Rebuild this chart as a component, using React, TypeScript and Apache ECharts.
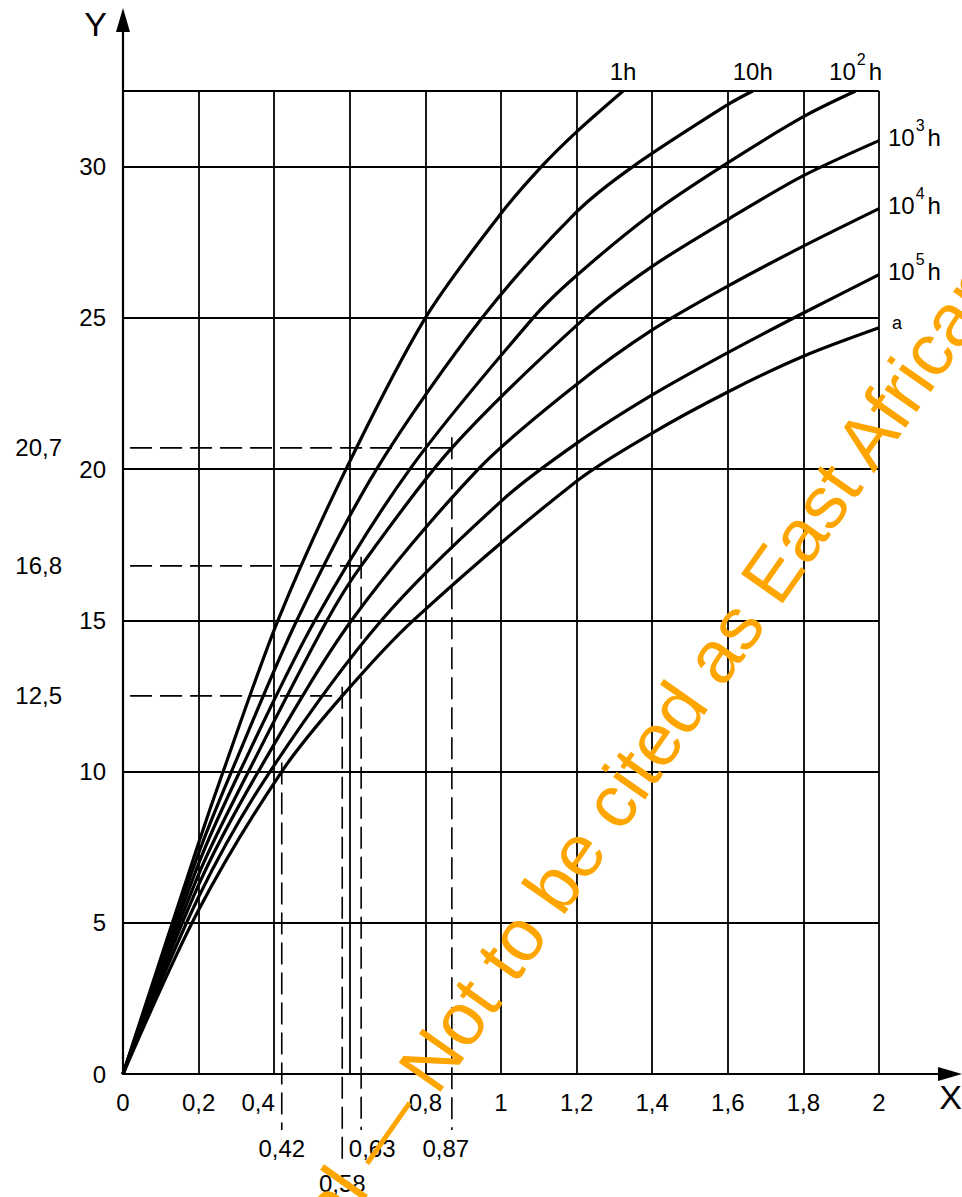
import React, { useEffect, useRef } from "react";
import * as echarts from "echarts";

const FONT = "'Liberation Sans', Arial, sans-serif";

// ---- axes ----
const X_MIN = 0;
const X_MAX = 2;
const X_STEP = 0.2;
const Y_MIN = 0;
const Y_MAX = 32.5;
const Y_STEP = 5;

// ---- curves: [X, Y] ----
const curve1h = [[0, 0], [0.2, 7.64], [0.265, 10], [0.41, 15], [0.59, 20], [0.8, 25], [1.0, 28.45], [1.107, 30], [1.2, 31.15], [1.323, 32.5]];
const curve10h = [[0, 0], [0.2, 7.3], [0.287, 10], [0.46, 15], [0.671, 20], [0.95, 25], [1.2, 28.5], [1.349, 30], [1.6, 32.05], [1.666, 32.5]];
const curve100h = [[0, 0], [0.2, 6.95], [0.309, 10], [0.508, 15], [0.759, 20], [1.085, 25], [1.2, 26.4], [1.4, 28.45], [1.584, 30], [1.8, 31.65], [1.938, 32.5]];
const curve1000h = [[0, 0], [0.2, 6.6], [0.332, 10], [0.54, 15], [0.63, 16.8], [0.87, 20.7], [1.222, 25], [1.4, 26.7], [1.6, 28.25], [1.8, 29.7], [2, 30.86]];
const curve10000h = [[0, 0], [0.2, 6.25], [0.358, 10], [0.605, 15], [0.94, 20], [1.2, 22.8], [1.4, 24.6], [1.6, 26.05], [1.8, 27.37], [2, 28.61]];
const curve100000h = [[0, 0], [0.2, 5.85], [0.389, 10], [0.684, 15], [1.006, 19.0], [1.2, 20.85], [1.4, 22.45], [1.6, 23.85], [1.8, 25.16], [2, 26.43]];
const curveA = [[0, 0], [0.2, 5.42], [0.42, 10.0], [0.58, 12.5], [0.768, 15], [1.2, 19.6], [1.4, 21.19], [1.6, 22.55], [1.8, 23.73], [2, 24.67]];

const curves = [curve1h, curve10h, curve100h, curve1000h, curve10000h, curve100000h, curveA];
// label: exponent of 10 hours; null -> "a"
const curveExps: (number | null)[] = [0, 1, 2, 3, 4, 5, null];

// ---- guide readings (dashed lines) ----
const guideY = [12.5, 16.8, 20.7];
const guideXForY = [0.58, 0.63, 0.87];
const extraGuideX = [0.42];

// ---- layout constants (data units for guide extents, pixels for offsets) ----
const GUIDE_LEFT = -0.14;
const V_GUIDE_TOP: Record<string, number> = { "0.42": 10.3, "0.58": 12.8, "0.63": 17.1, "0.87": 21.05 };
const V_GUIDE_BOTTOM: Record<string, number> = { "0.42": -1.85, "0.58": -3.0, "0.63": -1.85, "0.87": -1.85 };
const V_LABEL_DX: Record<string, number> = { "0.42": 0, "0.58": 0, "0.63": 11, "0.87": -6 };

const fmt = (v: number) => String(v).replace(".", ",");
const near = (a: number, b: number) => Math.abs(a - b) < 1e-6;

const curveLabel = (exp: number | null) => {
  if (exp === null) return "{a|a}";
  if (exp === 0) return "{n|1h}";
  if (exp === 1) return "{n|10h}";
  return `{n|10}{s|${exp}}{n|h}`;
};

const RICH = {
  n: { fontSize: 24, lineHeight: 32, verticalAlign: "bottom", color: "#000", fontFamily: FONT },
  s: { fontSize: 16, lineHeight: 16, verticalAlign: "top", color: "#000", padding: [0, 3, 0, 1], fontFamily: FONT },
  a: { fontSize: 18, lineHeight: 18, color: "#000", fontFamily: FONT },
};

function buildOption() {
  const dashStyle = { color: "#000", width: 1.6, type: [22, 8] };
  const seg = (pts: number[][]) => ({
    type: "line",
    data: pts,
    symbol: "none",
    clip: false,
    silent: true,
    lineStyle: dashStyle,
    z: 1,
    xAxisIndex: 0,
    yAxisIndex: 0,
  });

  const guideSeries: any[] = [];
  guideY.forEach((y, i) => {
    guideSeries.push(seg([[GUIDE_LEFT, y], [guideXForY[i], y]]));
  });
  const vXs = [...extraGuideX, ...guideXForY];
  vXs.forEach((x) => {
    const k = String(x);
    guideSeries.push(seg([[x, V_GUIDE_TOP[k]], [x, V_GUIDE_BOTTOM[k]]]));
  });

  const labelText = { fontSize: 24, color: "#000", fontFamily: FONT, opacity: 1 };
  const guideLabelData: any[] = [];
  guideY.forEach((y) => {
    guideLabelData.push({
      value: [GUIDE_LEFT, y],
      label: { show: true, position: "left", distance: 8, formatter: fmt(y), ...labelText },
    });
  });
  vXs.forEach((x) => {
    const k = String(x);
    guideLabelData.push({
      value: [x, V_GUIDE_BOTTOM[k]],
      label: { show: true, position: "bottom", distance: 7, offset: [V_LABEL_DX[k], 0], formatter: fmt(x), lineHeight: 24, ...labelText },
    });
  });

  const curveSeries = curves.map((c, i) => ({
    type: "line",
    name: "curve" + i,
    data: c,
    smooth: 0.3,
    symbol: "none",
    clip: false,
    silent: true,
    lineStyle: { color: "#000", width: 3.2 },
    z: 3,
    xAxisIndex: 0,
    yAxisIndex: 0,
  }));

  const curveLabelData = curves.map((c, i) => {
    const last = c[c.length - 1];
    const atTop = last[1] >= Y_MAX - 1e-9;
    const exp = curveExps[i];
    return {
      value: last,
      label: {
        show: true,
        position: atTop ? "top" : "right",
        distance: atTop ? 8 : exp === null ? 13 : 9,
        offset: atTop ? [0, 0] : [0, exp === null ? -5 : -7],
        formatter: curveLabel(exp),
        rich: RICH,
        color: "#000",
        opacity: 1,
      },
    };
  });

  const labelScatter = (data: any[]) => ({
    type: "scatter",
    data,
    symbol: "circle",
    symbolSize: 0,
    clip: false,
    silent: true,
    itemStyle: { color: "#000", opacity: 1 },
    z: 5,
    xAxisIndex: 0,
    yAxisIndex: 0,
  });

  return {
    animation: false,
    backgroundColor: "#fff",
    textStyle: { fontFamily: FONT, color: "#000" },
    grid: [
      { left: 123, right: 83, top: 91, bottom: 123 },
      { left: 123, right: 12, top: 20, bottom: 123 },
    ],
    xAxis: [
      {
        type: "value",
        gridIndex: 0,
        min: X_MIN,
        max: X_MAX,
        interval: X_STEP,
        axisLine: { show: false },
        axisTick: { show: false },
        splitLine: { show: true, lineStyle: { color: "#000", width: 1.8 } },
        axisLabel: {
          fontSize: 24,
          lineHeight: 24,
          color: "#000",
          margin: 16,
          fontFamily: FONT,
          formatter: (v: number) => (near(v, 0.6) ? "" : near(v, 0.4) ? `{l|${fmt(v)}}` : fmt(v)),
          rich: { l: { fontSize: 24, color: "#000", padding: [0, 32, 0, 0], fontFamily: FONT } },
        },
      },
      {
        type: "value",
        gridIndex: 1,
        min: 0,
        max: 1,
        axisLine: { show: true, symbol: ["none", "triangle"], symbolSize: [14, 24], lineStyle: { color: "#000", width: 2.2 } },
        axisTick: { show: false },
        axisLabel: { show: false },
        splitLine: { show: false },
      },
    ],
    yAxis: [
      {
        type: "value",
        gridIndex: 0,
        min: Y_MIN,
        max: Y_MAX,
        interval: Y_STEP,
        axisLine: { show: false },
        axisTick: { show: false },
        splitLine: { show: true, lineStyle: { color: "#000", width: 1.8 } },
        axisLabel: {
          fontSize: 24,
          color: "#000",
          margin: 17,
          fontFamily: FONT,
          formatter: (v: number) => (near(v, Y_MAX) ? "" : fmt(v)),
        },
      },
      {
        type: "value",
        gridIndex: 1,
        min: 0,
        max: 1,
        axisLine: { show: true, symbol: ["none", "triangle"], symbolSize: [14, 24], lineStyle: { color: "#000", width: 2.2 } },
        axisTick: { show: false },
        axisLabel: { show: false },
        splitLine: { show: false },
        name: "Y",
        nameLocation: "end",
        nameGap: -4,
        nameTextStyle: { fontSize: 34, color: "#000", align: "right", verticalAlign: "middle", padding: [0, 16, 0, 0], fontFamily: FONT },
      },
    ],
    graphic: [
      {
        type: "text",
        x: 962,
        y: 1097,
        z: 50,
        silent: true,
        style: { text: "X", fontSize: 34, fontFamily: FONT, fill: "#000", align: "right", verticalAlign: "middle" },
      },
      {
        type: "text",
        x: 416,
        y: 1082,
        rotation: (55 * Math.PI) / 180,
        z: 100,
        silent: true,
        style: { text: "Not to be cited as East African Standard", fontSize: 74, fontFamily: FONT, fill: "#FFA500", align: "left", verticalAlign: "middle" },
      },
      {
        type: "text",
        x: 404,
        y: 1099,
        rotation: (55 * Math.PI) / 180,
        z: 100,
        silent: true,
        style: { text: "Final Draft for Approval —", fontSize: 74, fontFamily: FONT, fill: "#FFA500", align: "right", verticalAlign: "middle" },
      },
    ],
    series: [...guideSeries, ...curveSeries, labelScatter(curveLabelData), labelScatter(guideLabelData)],
  };
}

export default function App() {
  const ref = useRef<HTMLDivElement>(null);
  useEffect(() => {
    if (!ref.current) return;
    const chart = echarts.init(ref.current, undefined, { renderer: "svg" });
    chart.setOption(buildOption() as any);
    return () => chart.dispose();
  }, []);
  return (
    <div
      ref={ref}
      style={{ position: "absolute", left: 0, top: 0, width: 962, height: 1197, background: "#fff" }}
    />
  );
}
